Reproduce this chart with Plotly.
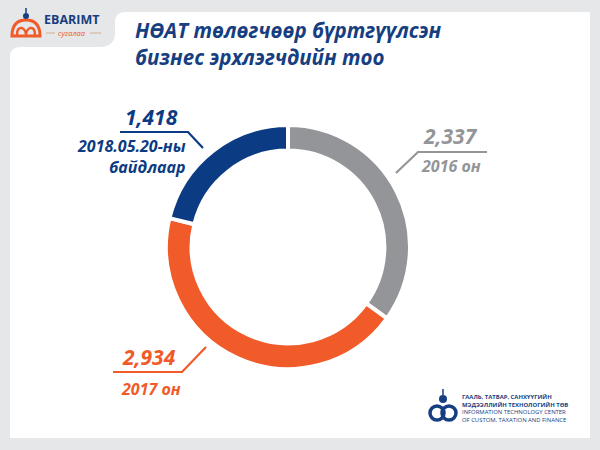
import plotly.graph_objects as go

W, H = 600, 450

# ---- data ----
labels = ["2016 он", "2017 он", "2018.05.20-ны байдлаар"]
values = [2337, 2934, 1418]
value_labels = ["2,337", "2,934", "1,418"]
colors = ["#939598", "#F15A29", "#0B3B82"]

NAVY = "#163E80"
GREY_BG = "#E6E7E9"
FONT = "Open Sans"


def px(x):
    return x / W


def py(y):
    return 1 - y / H


fig = go.Figure()

# donut: centre (288,247), radius ~122 px
cx, cy, r = 288, 247, 122
fig.add_trace(go.Pie(
    labels=labels, values=values, sort=False, direction="clockwise", rotation=0,
    hole=0.79, marker=dict(colors=colors, line=dict(color="white", width=4)),
    textinfo="none", hoverinfo="skip", showlegend=False,
    domain=dict(x=[px(cx - r), px(cx + r)], y=[py(cy + r), py(cy - r)]),
))

shapes = []

# white panel with notch at top-left
rr = 10
panel = (
    f"M {px(10)},{py(47 + rr)} "
    f"Q {px(10)},{py(47)} {px(10 + rr)},{py(47)} "
    f"L {px(100)},{py(47)} "
    f"Q {px(115)},{py(47)} {px(115)},{py(32)} "
    f"L {px(115)},{py(12 + rr)} "
    f"Q {px(115)},{py(12)} {px(115 + rr)},{py(12)} "
    f"L {px(590)},{py(12)} "
    f"L {px(590)},{py(438)} "
    f"L {px(10)},{py(438)} Z"
)
shapes.append(dict(type="path", path=panel, xref="paper", yref="paper",
                   fillcolor="white", line=dict(width=0), layer="below"))


def polyline(pts, color, width=2.2):
    d = "M " + " L ".join(f"{px(x)},{py(y)}" for x, y in pts)
    shapes.append(dict(type="path", path=d, xref="paper", yref="paper",
                       line=dict(color=color, width=width)))


# leader lines
polyline([(120, 132), (188, 132), (203, 148)], colors[2])
polyline([(396, 173), (418, 152), (487, 152)], colors[0])
polyline([(113, 372), (182, 372), (206, 347)], colors[1])

# EBARIMT logo icon (approximate)
ORANGE = colors[1]
shapes.append(dict(type="path", xref="paper", yref="paper",
                   path=(f"M {px(12)},{py(36)} Q {px(12)},{py(20)} {px(26)},{py(20)} "
                         f"Q {px(40)},{py(20)} {px(40)},{py(36)} Z"),
                   line=dict(color=ORANGE, width=3), fillcolor="rgba(0,0,0,0)"))
shapes.append(dict(type="path", xref="paper", yref="paper",
                   path=(f"M {px(17)},{py(35)} Q {px(17)},{py(27)} {px(22)},{py(28)} "
                         f"Q {px(26)},{py(30)} {px(26)},{py(35)} "
                         f"Q {px(26)},{py(30)} {px(30)},{py(28)} "
                         f"Q {px(35)},{py(27)} {px(35)},{py(35)}"),
                   line=dict(color=ORANGE, width=2.5), fillcolor="rgba(0,0,0,0)"))
shapes.append(dict(type="circle", xref="paper", yref="paper",
                   x0=px(23), x1=px(29), y0=py(19), y1=py(13),
                   fillcolor=NAVY, line=dict(width=0)))
shapes.append(dict(type="line", xref="paper", yref="paper",
                   x0=px(26), x1=px(26), y0=py(13), y1=py(8),
                   line=dict(color=NAVY, width=1.5)))
shapes.append(dict(type="line", xref="paper", yref="paper",
                   x0=px(46), x1=px(55), y0=py(33), y1=py(33),
                   line=dict(color="#C9A27A", width=0.8)))
shapes.append(dict(type="line", xref="paper", yref="paper",
                   x0=px(90), x1=px(101), y0=py(33), y1=py(33),
                   line=dict(color="#C9A27A", width=0.8)))

# bottom-right organisation logo (approximate)
for ccx in (437, 449):
    shapes.append(dict(type="circle", xref="paper", yref="paper",
                       x0=px(ccx - 7), x1=px(ccx + 7), y0=py(420), y1=py(406),
                       line=dict(color=NAVY, width=3.5)))
shapes.append(dict(type="circle", xref="paper", yref="paper",
                   x0=px(439), x1=px(447), y0=py(403), y1=py(395),
                   fillcolor=NAVY, line=dict(width=0)))
shapes.append(dict(type="line", xref="paper", yref="paper",
                   x0=px(443), x1=px(443), y0=py(395), y1=py(389),
                   line=dict(color=NAVY, width=1.5)))

annotations = []


def text(x, y, s, size, color, xanchor="center", weight=700, style="italic",
         family=FONT, align="center"):
    annotations.append(dict(
        x=px(x), y=py(y), xref="paper", yref="paper", text=s, showarrow=False,
        xanchor=xanchor, yanchor="middle", borderpad=0, align=align,
        font=dict(size=size, color=color, family=family, weight=weight, style=style),
    ))


# title
text(134, 30, "НӨАТ төлөгчөөр бүртгүүлсэн", 20.5, NAVY, xanchor="left")
text(134, 57, "бизнес эрхлэгчдийн тоо", 20.5, NAVY, xanchor="left")

# labels
text(151, 117, value_labels[2], 21, colors[2])
text(187, 146, "2018.05.20-ны", 16, colors[2], xanchor="right")
text(187, 167, "байдлаар", 16, colors[2], xanchor="right")

text(450, 136, value_labels[0], 21, colors[0])
text(451, 166, labels[0], 16, colors[0])

text(149, 357, value_labels[1], 21, colors[1])
text(151, 389, labels[1], 16, colors[1])

# EBARIMT text
text(43, 20, "EBARIMT", 12.5, NAVY, xanchor="left", style="normal")
text(72, 33, "сугалаа", 7.5, ORANGE, style="italic", weight=400)

# org logo text
text(461, 408,
     "<b>ГААЛЬ, ТАТВАР, САНХҮҮГИЙН</b><br><b>МЭДЭЭЛЛИЙН ТЕХНОЛОГИЙН ТӨВ</b><br>"
     "INFORMATION TECHNOLOGY CENTER<br>OF CUSTOM, TAXATION AND FINANCE",
     5.9, NAVY, xanchor="left", style="normal", weight=400, align="left")

fig.update_layout(
    width=W, height=H, margin=dict(l=0, r=0, t=0, b=0),
    paper_bgcolor=GREY_BG, plot_bgcolor=GREY_BG,
    shapes=shapes, annotations=annotations, showlegend=False,
)

fig.write_html(
    "out.html",
    config={"displayModeBar": False},
    post_script="document.body.style.margin='0';document.body.style.background='%s';" % GREY_BG,
)
